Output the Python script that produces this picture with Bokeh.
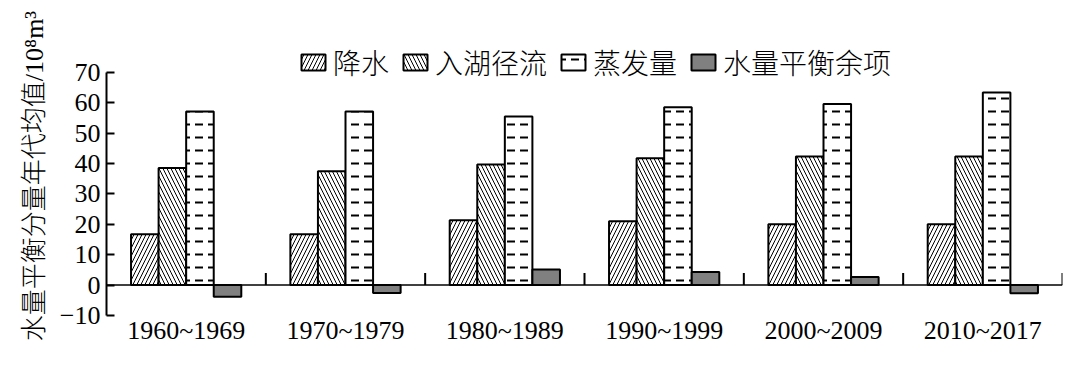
from bokeh.plotting import figure
from bokeh.models import (FactorRange, Range1d, Legend, LegendItem, Span,
                          FixedTicker, ColumnDataSource)
from bokeh.transform import dodge
from bokeh.embed import file_html
from bokeh.resources import INLINE

# ---- data ----
decades = ["1960~1969", "1970~1979", "1980~1989", "1990~1999", "2000~2009", "2010~2017"]
precip = [16.7, 16.7, 21.3, 21.0, 20.0, 20.0]          # 降水
inflow = [38.5, 37.5, 39.7, 41.7, 42.3, 42.3]          # 入湖径流
evap = [57.1, 57.1, 55.5, 58.5, 59.6, 63.4]            # 蒸发量
residual = [-3.8, -2.6, 5.1, 4.3, 2.7, -2.7]           # 水量平衡余项
series_names = ["降水", "入湖径流", "蒸发量", "水量平衡余项"]
y_ticks = [-10, 0, 10, 20, 30, 40, 50, 60, 70]
y_label = "水量平衡分量年代均值/10⁸m³"

FONT = "'Liberation Serif', 'Noto Sans CJK SC Light', 'Noto Sans CJK SC'"

src = ColumnDataSource(dict(decade=decades, precip=precip, inflow=inflow,
                            evap=evap, residual=residual))

# y range extends above 70 so the legend can sit inside the frame;
# the axis line itself is bounded to -10..70
p = figure(width=1080, height=368, output_backend="svg", toolbar_location=None,
           x_range=FactorRange(factors=decades, range_padding=0),
           y_range=Range1d(-10, 81.8),
           min_border_left=106, min_border_right=18, min_border_top=36,
           min_border_bottom=53)
p.outline_line_color = None
p.grid.visible = False
p.background_fill_color = "white"
p.border_fill_color = "white"

w = 0.173
common = dict(source=src, width=w, bottom=0, line_color="black", line_width=2)
r1 = p.vbar(x=dodge("decade", -1.5 * w, range=p.x_range), top="precip",
            fill_color="white", hatch_pattern="right_diagonal_line", hatch_color="black",
            hatch_scale=8, hatch_weight=1, **common)
r2 = p.vbar(x=dodge("decade", -0.5 * w, range=p.x_range), top="inflow",
            fill_color="white", hatch_pattern="left_diagonal_line", hatch_color="black",
            hatch_scale=8, hatch_weight=1, **common)
r3 = p.vbar(x=dodge("decade", 0.5 * w, range=p.x_range), top="evap",
            fill_color="white", hatch_pattern="horizontal_dash", hatch_color="black",
            hatch_scale=13, hatch_weight=2, **common)
r4 = p.vbar(x=dodge("decade", 1.5 * w, range=p.x_range), top="residual",
            fill_color="#808080", **common)

# zero line and category separators
p.add_layout(Span(location=0, dimension="width", line_color="black", line_width=1.5))
bounds = list(range(1, len(decades) + 1))
p.segment(x0=bounds, y0=[0] * len(bounds), x1=bounds, y1=[4] * len(bounds),
          line_color="black", line_width=2)

# y axis
ya = p.yaxis[0]
ya.ticker = FixedTicker(ticks=y_ticks)
ya.bounds = (y_ticks[0], y_ticks[-1])
ya.axis_label = y_label
ya.axis_label_text_font = FONT
ya.axis_label_text_font_size = "26px"
ya.axis_label_text_font_style = "normal"
ya.axis_label_text_color = "black"
ya.axis_label_standoff = 8
ya.major_label_text_font = FONT
ya.major_label_text_font_size = "26px"
ya.major_label_text_color = "black"
ya.major_label_standoff = 6
ya.major_tick_in = 8
ya.major_tick_out = 0
ya.minor_tick_line_color = None
ya.axis_line_width = 2
ya.major_tick_line_width = 2
ya.axis_line_color = "black"
ya.major_tick_line_color = "black"

# x axis
xa = p.xaxis[0]
xa.axis_line_color = None
xa.major_tick_line_color = None
xa.minor_tick_line_color = None
xa.major_label_text_font = FONT
xa.major_label_text_font_size = "26px"
xa.major_label_text_color = "black"
xa.major_label_standoff = -6

legend = Legend(items=[LegendItem(label=n, renderers=[r]) for n, r in
                       zip(series_names, [r1, r2, r3, r4])],
                orientation="horizontal", location=(192, 233),
                label_text_font=FONT, label_text_font_size="28px",
                label_text_color="black",
                glyph_width=30, glyph_height=20, label_standoff=5, spacing=11,
                padding=0, margin=0, border_line_color=None,
                background_fill_alpha=0)
p.add_layout(legend)

open("out.html", "w").write(file_html(p, INLINE))
